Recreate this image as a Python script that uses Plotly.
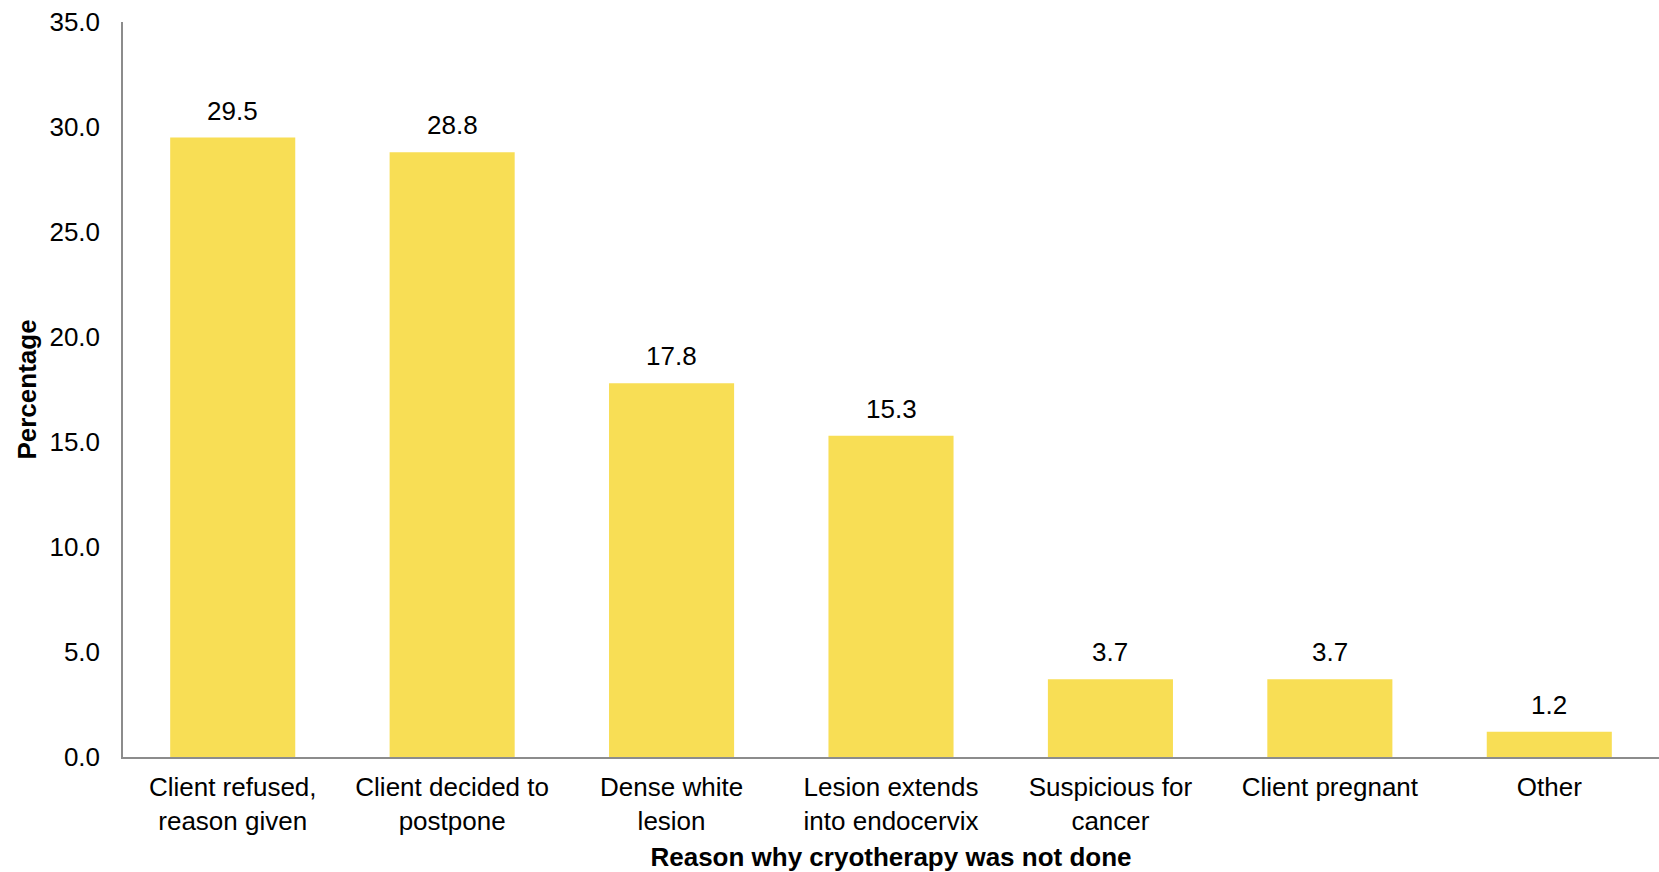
import plotly.graph_objects as go

# Reasons cryotherapy was not performed, share of cases (%)
categories = [
    "Client refused,<br>reason given",
    "Client decided to<br>postpone",
    "Dense white<br>lesion",
    "Lesion extends<br>into endocervix",
    "Suspicious for<br>cancer",
    "Client pregnant",
    "Other",
]
percentages = [29.5, 28.8, 17.8, 15.3, 3.7, 3.7, 1.2]
y_ticks = [0, 5, 10, 15, 20, 25, 30, 35]

BAR_COLOR = "#F8DE55"
AXIS_COLOR = "#8C8C8C"
FONT = "Liberation Sans, Arial, sans-serif"

fig = go.Figure(
    go.Bar(
        x=categories,
        y=percentages,
        marker=dict(color=BAR_COLOR, line=dict(width=0)),
        hoverinfo="skip",
    )
)

# value labels above each bar
for cat, val in zip(categories, percentages):
    fig.add_annotation(
        x=cat, y=val, text=f"{val:.1f}",
        showarrow=False, yanchor="bottom", yshift=10,
        font=dict(family=FONT, size=26, color="#000000"),
    )

fig.update_layout(
    width=1659, height=872,
    margin=dict(l=123, r=0, t=22, b=115),
    paper_bgcolor="white", plot_bgcolor="white",
    bargap=0.43,
    showlegend=False,
    font=dict(family=FONT, size=26, color="#000000"),
)

fig.update_xaxes(
    showgrid=False, zeroline=False,
    showline=True, linecolor=AXIS_COLOR, linewidth=1.5,
    ticks="", tickfont=dict(size=26), ticklabelstandoff=6,
    title=dict(text="<b>Reason why cryotherapy was not done</b>",
               font=dict(size=26), standoff=13),
    automargin=False,
)
fig.update_yaxes(
    range=[0, 35], tickvals=y_ticks,
    tickformat=".1f",
    showgrid=False, zeroline=False,
    showline=True, linecolor=AXIS_COLOR, linewidth=1.5,
    ticks="", tickfont=dict(size=26), ticklabelstandoff=16,
    title=dict(text="<b>Percentage</b>", font=dict(size=26), standoff=5),
    automargin=False,
)

fig.write_html("out.html")
